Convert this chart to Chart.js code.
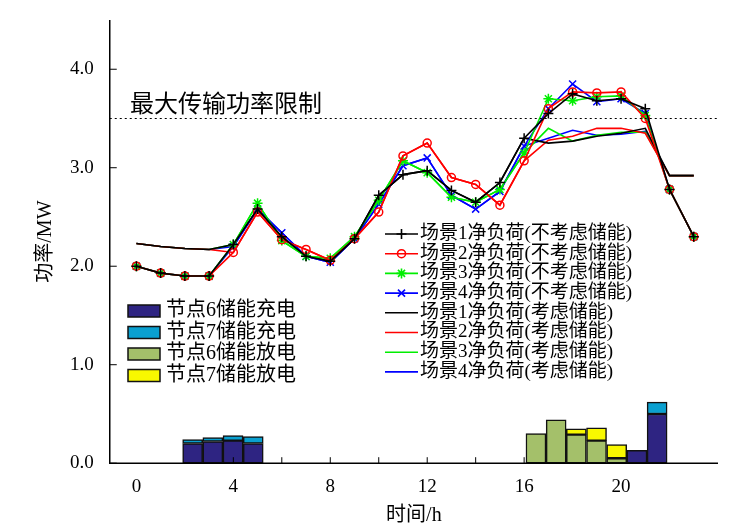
<!DOCTYPE html>
<html><head><meta charset="utf-8">
<script src="https://cdn.jsdelivr.net/npm/chart.js@4"></script>
<style>body{margin:0;background:#fff}#w{width:730px;height:532px}</style>
</head><body><div id="w"><canvas id="c"></canvas></div>
<script>
const hours=[0,1,2,3,4,5,6,7,8,9,10,11,12,13,14,15,16,17,18,19,20,21,22,23];
const s1=[2.0,1.93,1.9,1.9,2.22,2.58,2.3,2.1,2.05,2.28,2.72,2.93,2.97,2.77,2.65,2.85,3.3,3.55,3.75,3.68,3.7,3.6,2.78,2.3];
const s2=[2.0,1.93,1.9,1.9,2.14,2.55,2.27,2.17,2.06,2.28,2.55,3.12,3.25,2.9,2.83,2.62,3.07,3.6,3.77,3.76,3.77,3.5,2.78,2.3];
const s3=[2.0,1.93,1.9,1.9,2.22,2.64,2.26,2.1,2.08,2.3,2.67,3.07,2.95,2.7,2.65,2.78,3.15,3.7,3.68,3.72,3.73,3.53,2.78,2.3];
const s4=[2.0,1.93,1.9,1.9,2.2,2.58,2.34,2.1,2.04,2.28,2.63,3.02,3.1,2.72,2.58,2.76,3.22,3.6,3.85,3.67,3.7,3.55,2.78,2.3];
const e1=[2.23,2.2,2.18,2.17,2.22,2.58,2.3,2.1,2.05,2.28,2.72,2.93,2.97,2.77,2.65,2.85,3.3,3.25,3.27,3.32,3.35,3.4,2.92,2.92];
const e2=[2.23,2.2,2.18,2.17,2.14,2.55,2.27,2.17,2.06,2.28,2.55,3.12,3.25,2.9,2.83,2.62,3.07,3.28,3.32,3.4,3.4,3.35,2.92,2.92];
const e3=[2.23,2.2,2.18,2.17,2.22,2.64,2.26,2.1,2.08,2.3,2.67,3.07,2.95,2.7,2.65,2.78,3.15,3.4,3.27,3.33,3.36,3.36,2.92,2.92];
const e4=[2.23,2.2,2.18,2.17,2.2,2.58,2.34,2.1,2.04,2.28,2.63,3.02,3.1,2.72,2.58,2.76,3.22,3.3,3.38,3.33,3.34,3.37,2.92,2.92];
const c6=[0.2,0.22,0.23,0.2,0,0,0,0,0,0,0,0,0,0,0,0,0,0,0,0,0,0,0.13,0.5];
const c7=[0.04,0.04,0.05,0.07,0,0,0,0,0,0,0,0,0,0,0,0,0,0,0,0,0,0,0,0.12];
const d6=[0,0,0,0,0,0,0,0,0,0,0,0,0,0,0,0,0,0.3,0.44,0.29,0.23,0.05,0,0];
const d7=[0,0,0,0,0,0,0,0,0,0,0,0,0,0,0,0,0,0,0,0.06,0.13,0.14,0,0];
const xTicks=[0,4,8,12,16,20];
const yTicks=[0,1,2,3,4];
const limit=3.5;
const lineNames=['场景1净负荷(不考虑储能)','场景2净负荷(不考虑储能)','场景3净负荷(不考虑储能)','场景4净负荷(不考虑储能)','场景1净负荷(考虑储能)','场景2净负荷(考虑储能)','场景3净负荷(考虑储能)','场景4净负荷(考虑储能)'];
const barNames=['节点6储能充电','节点7储能充电','节点6储能放电','节点7储能放电'];
const FONT='"Liberation Serif","Noto Sans CJK SC",serif';
const cols=['#000000','#ff0000','#00ee00','#0000ff'];
const markers=['cross','circle','star','crossRot'];
const pts=a=>hours.map((h,i)=>({x:h,y:a[i]}));
const bpts=a=>hours.map((h,i)=>({x:h,y:a[i]})).filter(p=>p.y>0);
const ds=[];
[s1,s2,s3,s4].forEach((a,i)=>ds.push({type:'line',data:pts(a),borderColor:cols[i],borderWidth:1.6,pointStyle:markers[i],pointRadius:i==1?4:5,pointBorderColor:cols[i],pointBackgroundColor:'rgba(0,0,0,0)',pointBorderWidth:1.5,xAxisID:'x',yAxisID:'y',order:1}));
[e1,e2,e3,e4].forEach((a,i)=>ds.push({type:'line',data:pts(a),borderColor:cols[i],borderWidth:1.6,pointRadius:0,xAxisID:'x',yAxisID:'y',order:2}));
const bcols=['#2e2482','#0aa0d0','#a4c06a','#f8f800'];
[c6,c7,d6,d7].forEach((a,i)=>ds.push({type:'bar',data:bpts(a),backgroundColor:bcols[i],borderColor:'#111',borderWidth:1.5,barThickness:20,xAxisID:'xb',yAxisID:'yb',stack:'s',borderSkipped:false,order:3}));
const deco={id:'deco',afterDraw(ch){
 const c=ch.ctx,x=ch.scales.x,y=ch.scales.y,a=ch.chartArea;
 c.save();c.strokeStyle='#000';c.lineWidth=1.5;
 c.beginPath();c.moveTo(a.left,a.top);c.lineTo(a.left,a.bottom);c.lineTo(a.right,a.bottom);c.stroke();
 c.lineWidth=1;
 for(let t=4;t<=16;t+=2){const px=x.getPixelForValue(t);c.beginPath();c.moveTo(px,a.bottom);c.lineTo(px,a.bottom-6);c.stroke();}
 yTicks.forEach(t=>{const py=y.getPixelForValue(t);c.beginPath();c.moveTo(a.left,py);c.lineTo(a.left+7,py);c.stroke();});
 c.setLineDash([2,3]);c.lineWidth=1.2;const ly=y.getPixelForValue(limit);
 c.beginPath();c.moveTo(a.left,ly);c.lineTo(a.right,ly);c.stroke();c.setLineDash([]);
 c.fillStyle='#000';c.font='24px '+FONT;c.textBaseline='alphabetic';c.fillText('最大传输功率限制',130,ly-6);
 c.font='19px '+FONT;c.textBaseline='middle';
 lineNames.forEach((n,i)=>{const yy=234+i*19.7;const k=i%4;c.strokeStyle=cols[k];c.lineWidth=1.6;
  c.beginPath();c.moveTo(385,yy);c.lineTo(418,yy);c.stroke();
  if(i<4){c.fillStyle='rgba(0,0,0,0)';Chart.helpers.drawPoint(c,{pointStyle:markers[k],radius:k==1?4:5,borderWidth:1.5},401.5,yy);}
  c.fillStyle='#000';c.fillText(n,420,yy);});
 c.font='20px '+FONT;
 barNames.forEach((n,i)=>{const yy=311+i*21.5;c.fillStyle=bcols[i];c.strokeStyle='#111';c.lineWidth=1.5;
  c.fillRect(128,yy-6,32,12);c.strokeRect(128,yy-6,32,12);c.fillStyle='#000';c.fillText(n,166,yy);});
 c.restore();}};
new Chart(document.getElementById('c'),{data:{datasets:ds},plugins:[deco],
options:{responsive:true,maintainAspectRatio:false,animation:false,
 layout:{padding:{left:30,right:12,top:20,bottom:0}},
 plugins:{legend:{display:false},tooltip:{enabled:false}},
 scales:{
  x:{type:'linear',min:-1.1,max:24,afterBuildTicks:s=>{s.ticks=xTicks.map(v=>({value:v}))},
     grid:{display:false},border:{display:false},ticks:{font:{family:FONT,size:19},color:'#000',padding:4},
     title:{display:true,text:'时间/h',font:{family:FONT,size:20},color:'#000',padding:{top:2}}},
  xb:{type:'linear',min:-1.1,max:24,display:false},
  y:{min:0,max:4.5,afterBuildTicks:s=>{s.ticks=yTicks.map(v=>({value:v}))},
     grid:{display:false},border:{display:false},
     ticks:{font:{family:FONT,size:19},color:'#000',callback:v=>v.toFixed(1),padding:8},
     title:{display:true,text:'功率/MW',font:{family:FONT,size:20},color:'#000'}},
  yb:{min:0,max:4.5,display:false,stacked:true}
 }}});
</script></body></html>
